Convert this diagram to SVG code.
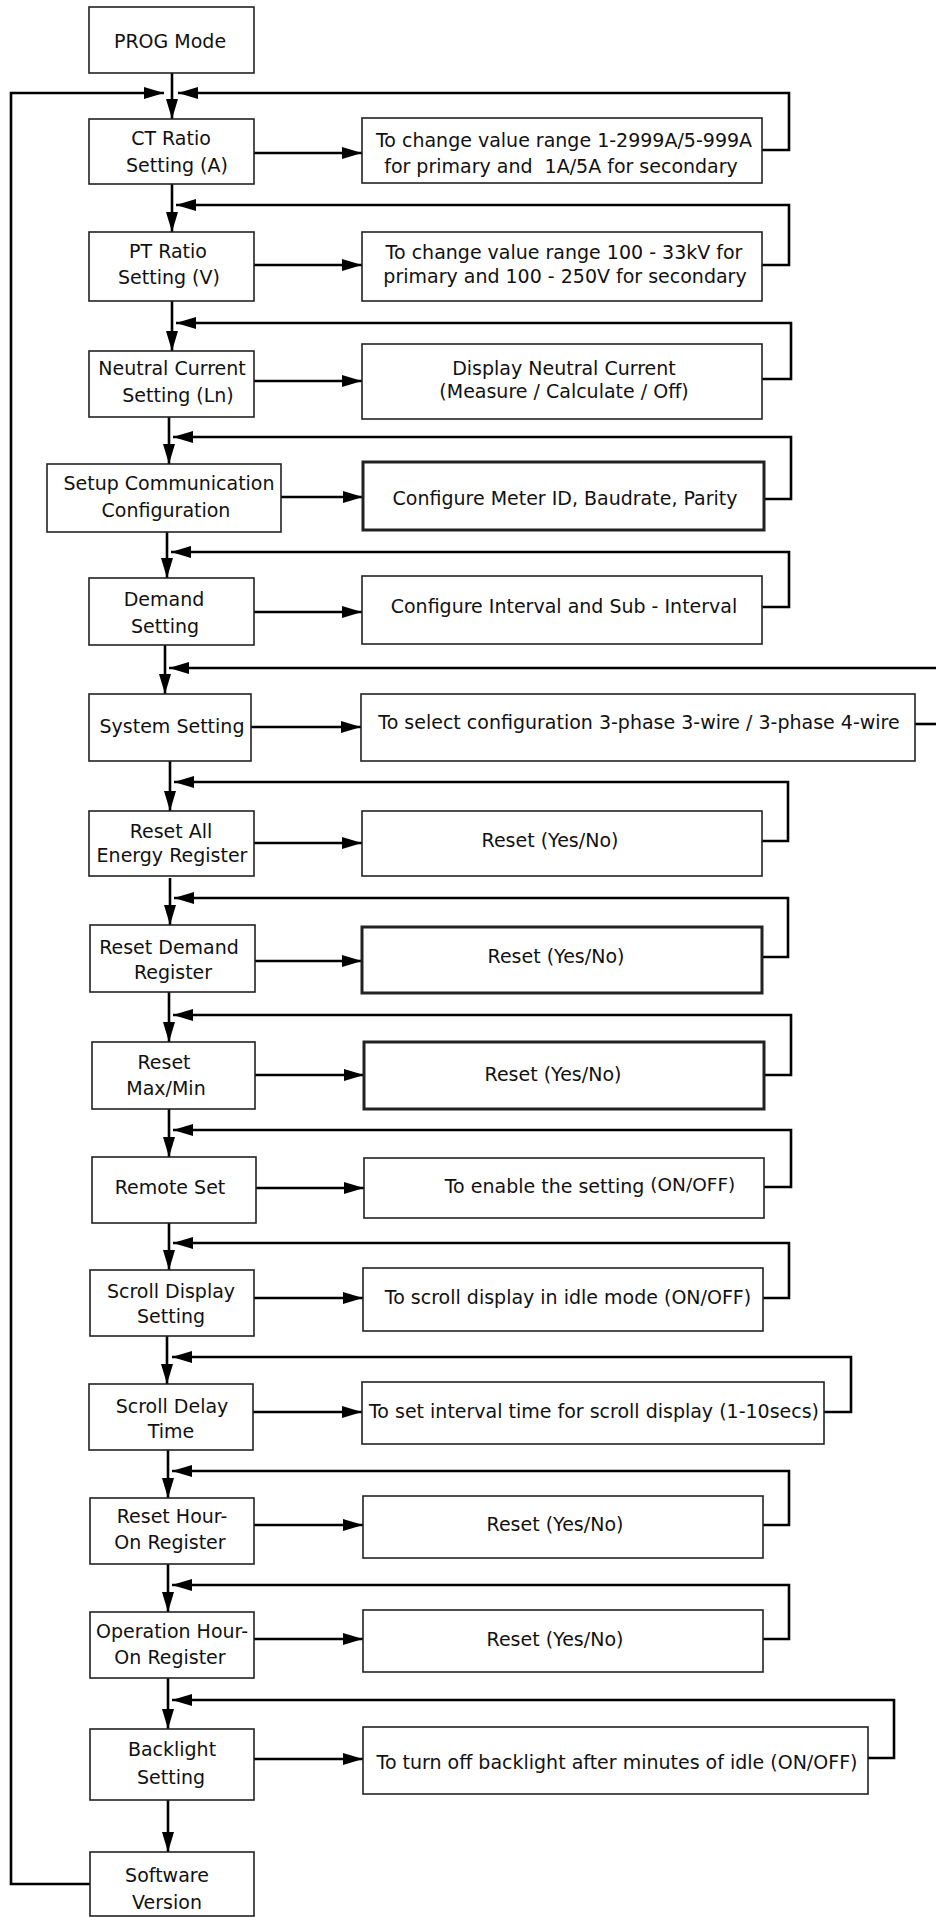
<svg xmlns="http://www.w3.org/2000/svg" width="936" height="1917" viewBox="0 0 936 1917">
<style>
.box{fill:#fff;stroke:#222;stroke-width:1.6}
.thick{stroke-width:3}
.t{font-family:"DejaVu Sans","Liberation Sans",sans-serif;font-size:19px;text-anchor:middle;fill:#111}
.c{fill:none;stroke:#000;stroke-width:2.6}
</style>
<defs>
<marker id="ah" viewBox="0 0 20 12" markerWidth="20" markerHeight="12" refX="20" refY="6" orient="auto" markerUnits="userSpaceOnUse">
<path d="M0,0 L20,6 L0,12 Z" fill="#000"/>
</marker>
</defs>
<rect width="936" height="1917" fill="#fff"/>
<g id="connectors">
<path class="c" marker-end="url(#ah)" d="M172,73 V119"/>
<path class="c" marker-end="url(#ah)" d="M172,184 V232"/>
<path class="c" marker-end="url(#ah)" d="M172,301 V351"/>
<path class="c" marker-end="url(#ah)" d="M169,417 V464"/>
<path class="c" marker-end="url(#ah)" d="M167,532 V578"/>
<path class="c" marker-end="url(#ah)" d="M165,645 V694"/>
<path class="c" marker-end="url(#ah)" d="M170,761 V811"/>
<path class="c" marker-end="url(#ah)" d="M170,878 V925"/>
<path class="c" marker-end="url(#ah)" d="M169,992 V1042"/>
<path class="c" marker-end="url(#ah)" d="M169,1109 V1157"/>
<path class="c" marker-end="url(#ah)" d="M169,1223 V1270"/>
<path class="c" marker-end="url(#ah)" d="M167,1336 V1384"/>
<path class="c" marker-end="url(#ah)" d="M168,1450 V1498"/>
<path class="c" marker-end="url(#ah)" d="M168,1564 V1612"/>
<path class="c" marker-end="url(#ah)" d="M168,1678 V1729"/>
<path class="c" marker-end="url(#ah)" d="M168,1800 V1852"/>
<path class="c" marker-end="url(#ah)" d="M254,153 H362"/>
<path class="c" marker-end="url(#ah)" d="M254,265 H362"/>
<path class="c" marker-end="url(#ah)" d="M254,381 H362"/>
<path class="c" marker-end="url(#ah)" d="M281,497 H363"/>
<path class="c" marker-end="url(#ah)" d="M254,612 H362"/>
<path class="c" marker-end="url(#ah)" d="M251,727 H361"/>
<path class="c" marker-end="url(#ah)" d="M254,843 H362"/>
<path class="c" marker-end="url(#ah)" d="M255,961 H362"/>
<path class="c" marker-end="url(#ah)" d="M255,1075 H364"/>
<path class="c" marker-end="url(#ah)" d="M256,1188 H364"/>
<path class="c" marker-end="url(#ah)" d="M254,1298 H363"/>
<path class="c" marker-end="url(#ah)" d="M253,1412 H362"/>
<path class="c" marker-end="url(#ah)" d="M254,1525 H363"/>
<path class="c" marker-end="url(#ah)" d="M254,1639 H363"/>
<path class="c" marker-end="url(#ah)" d="M254,1759 H363"/>
<path class="c" marker-end="url(#ah)" d="M762,150 H789 V93 H178"/>
<path class="c" marker-end="url(#ah)" d="M762,265 H789 V205 H176"/>
<path class="c" marker-end="url(#ah)" d="M762,379 H791 V323 H176"/>
<path class="c" marker-end="url(#ah)" d="M764,499 H791 V437 H173"/>
<path class="c" marker-end="url(#ah)" d="M762,607 H789 V552 H171"/>
<path class="c" d="M915,724 H945"/>
<path class="c" marker-end="url(#ah)" d="M945,668 H169"/>
<path class="c" marker-end="url(#ah)" d="M762,841 H788 V782 H174"/>
<path class="c" marker-end="url(#ah)" d="M762,957 H788 V898 H174"/>
<path class="c" marker-end="url(#ah)" d="M764,1075 H791 V1015 H173"/>
<path class="c" marker-end="url(#ah)" d="M764,1187 H791 V1130 H173"/>
<path class="c" marker-end="url(#ah)" d="M763,1298 H789 V1243 H173"/>
<path class="c" marker-end="url(#ah)" d="M824,1412 H851 V1357 H172"/>
<path class="c" marker-end="url(#ah)" d="M763,1525 H789 V1471 H172"/>
<path class="c" marker-end="url(#ah)" d="M763,1639 H789 V1585 H172"/>
<path class="c" marker-end="url(#ah)" d="M868,1758 H894 V1700 H172"/>
<path class="c" marker-end="url(#ah)" d="M90,1884 H11 V93 H164"/>
</g>
<g id="n-prog"><rect class="box" x="89" y="7" width="165" height="66"/><text class="t" x="170" y="48">PROG Mode</text></g>
<g id="n-ct"><rect class="box" x="89" y="119" width="165" height="65"/><text class="t" x="171" y="145">CT Ratio</text><text class="t" x="177" y="172">Setting (A)</text></g>
<g id="d-ct"><rect class="box" x="362" y="118" width="400" height="65"/><text class="t" x="564" y="147">To change value range 1-2999A/5-999A</text><text class="t" x="561" y="173" xml:space="preserve">for primary and  1A/5A for secondary</text></g>
<g id="n-pt"><rect class="box" x="89" y="232" width="165" height="69"/><text class="t" x="168" y="258">PT Ratio</text><text class="t" x="169" y="284">Setting (V)</text></g>
<g id="d-pt"><rect class="box" x="362" y="232" width="400" height="69"/><text class="t" x="564" y="259">To change value range 100 - 33kV for</text><text class="t" x="565" y="283">primary and 100 - 250V for secondary</text></g>
<g id="n-neutral"><rect class="box" x="89" y="351" width="165" height="66"/><text class="t" x="172" y="375">Neutral Current</text><text class="t" x="178" y="402">Setting (Ln)</text></g>
<g id="d-neutral"><rect class="box" x="362" y="344" width="400" height="75"/><text class="t" x="564" y="375">Display Neutral Current</text><text class="t" x="564" y="398">(Measure / Calculate / Off)</text></g>
<g id="n-setup"><rect class="box" x="47" y="464" width="234" height="68"/><text class="t" x="169" y="490">Setup Communication</text><text class="t" x="166" y="517">Configuration</text></g>
<g id="d-setup"><rect class="box thick" x="363" y="462" width="401" height="68"/><text class="t" x="565" y="505">Configure Meter ID, Baudrate, Parity</text></g>
<g id="n-demand"><rect class="box" x="89" y="578" width="165" height="67"/><text class="t" x="164" y="606">Demand</text><text class="t" x="165" y="633">Setting</text></g>
<g id="d-demand"><rect class="box" x="362" y="576" width="400" height="68"/><text class="t" x="564" y="613">Configure Interval and Sub - Interval</text></g>
<g id="n-system"><rect class="box" x="89" y="694" width="162" height="67"/><text class="t" x="172" y="733">System Setting</text></g>
<g id="d-system"><rect class="box" x="361" y="694" width="554" height="67"/><text class="t" x="639" y="729">To select configuration 3-phase 3-wire / 3-phase 4-wire</text></g>
<g id="n-resetall"><rect class="box" x="89" y="811" width="165" height="65"/><text class="t" x="171" y="838">Reset All</text><text class="t" x="172" y="862">Energy Register</text></g>
<g id="d-resetall"><rect class="box" x="362" y="811" width="400" height="65"/><text class="t" x="550" y="847">Reset (Yes/No)</text></g>
<g id="n-resetdemand"><rect class="box" x="90" y="925" width="165" height="67"/><text class="t" x="169" y="954">Reset Demand</text><text class="t" x="173" y="979">Register</text></g>
<g id="d-resetdemand"><rect class="box thick" x="362" y="927" width="400" height="66"/><text class="t" x="556" y="963">Reset (Yes/No)</text></g>
<g id="n-maxmin"><rect class="box" x="92" y="1042" width="163" height="67"/><text class="t" x="164" y="1069">Reset</text><text class="t" x="166" y="1095">Max/Min</text></g>
<g id="d-maxmin"><rect class="box thick" x="364" y="1042" width="400" height="67"/><text class="t" x="553" y="1081">Reset (Yes/No)</text></g>
<g id="n-remote"><rect class="box" x="92" y="1157" width="164" height="66"/><text class="t" x="170" y="1194">Remote Set</text></g>
<g id="d-remote"><rect class="box" x="364" y="1158" width="400" height="60"/><text class="t" x="590" y="1193">To enable the setting <tspan font-size="18.5" dy="-2">(ON/OFF)</tspan></text></g>
<g id="n-scrolldisplay"><rect class="box" x="90" y="1270" width="164" height="66"/><text class="t" x="171" y="1298">Scroll Display</text><text class="t" x="171" y="1323">Setting</text></g>
<g id="d-scrolldisplay"><rect class="box" x="363" y="1268" width="400" height="63"/><text class="t" x="568" y="1304">To scroll display in idle mode (ON/OFF)</text></g>
<g id="n-scrolldelay"><rect class="box" x="89" y="1384" width="164" height="66"/><text class="t" x="172" y="1413">Scroll Delay</text><text class="t" x="171" y="1438">Time</text></g>
<g id="d-scrolldelay"><rect class="box" x="362" y="1382" width="462" height="62"/><text class="t" x="594" y="1418">To set interval time for scroll display (1-10secs)</text></g>
<g id="n-resethour"><rect class="box" x="90" y="1498" width="164" height="66"/><text class="t" x="172" y="1523">Reset Hour-</text><text class="t" x="170" y="1549">On Register</text></g>
<g id="d-resethour"><rect class="box" x="363" y="1496" width="400" height="62"/><text class="t" x="555" y="1531">Reset (Yes/No)</text></g>
<g id="n-ophour"><rect class="box" x="90" y="1612" width="164" height="66"/><text class="t" x="172" y="1638">Operation Hour-</text><text class="t" x="170" y="1664">On Register</text></g>
<g id="d-ophour"><rect class="box" x="363" y="1610" width="400" height="62"/><text class="t" x="555" y="1646">Reset (Yes/No)</text></g>
<g id="n-backlight"><rect class="box" x="90" y="1729" width="164" height="71"/><text class="t" x="172" y="1756">Backlight</text><text class="t" x="171" y="1784">Setting</text></g>
<g id="d-backlight"><rect class="box" x="363" y="1727" width="505" height="67"/><text class="t" x="617" y="1769">To turn off backlight after minutes of idle (ON/OFF)</text></g>
<g id="n-software"><rect class="box" x="90" y="1852" width="164" height="64"/><text class="t" x="167" y="1882">Software</text><text class="t" x="167" y="1909">Version</text></g>
</svg>
